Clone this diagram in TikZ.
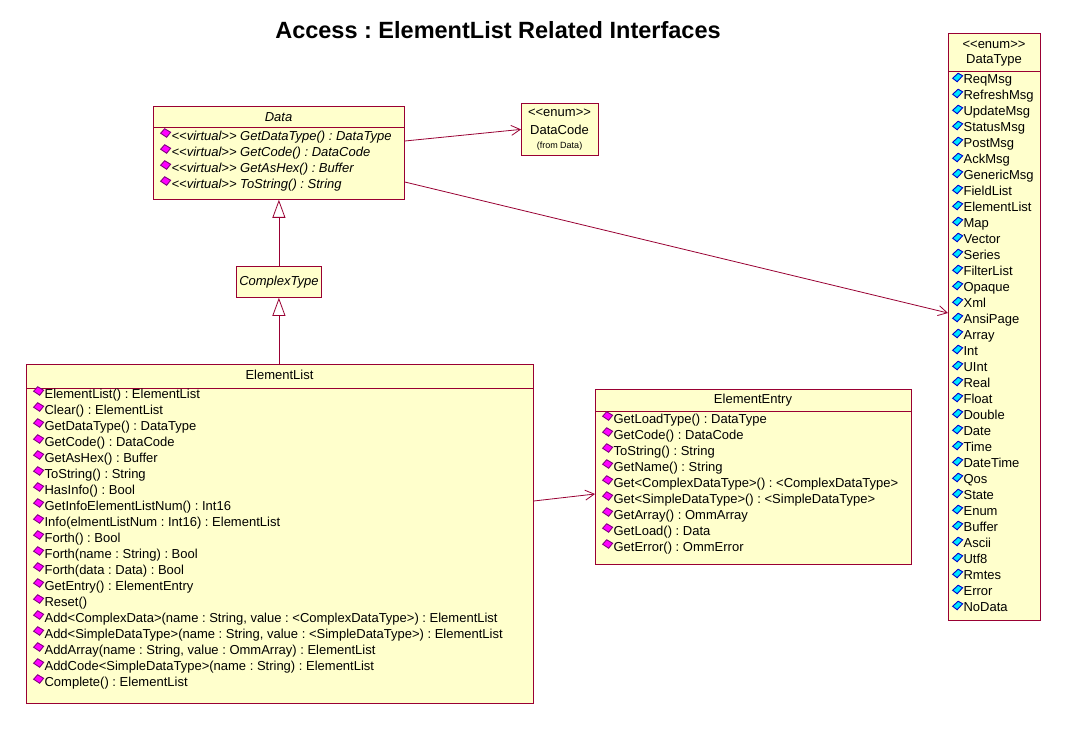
\documentclass[tikz,border=0pt]{standalone}
\usepackage{fontspec}
\setmainfont{Liberation Sans}
\usetikzlibrary{arrows.meta}
\frenchspacing

\definecolor{umlred}{RGB}{153,0,51}
\definecolor{umlfill}{RGB}{255,255,204}
\definecolor{opfill}{RGB}{255,0,255}
\definecolor{opedge}{RGB}{128,0,128}
\definecolor{attfill}{RGB}{0,230,255}
\definecolor{attedge}{RGB}{0,0,204}

% small diamonds in front of operations and enum values
\newcommand{\opicon}{\tikz[baseline=0pt]{\draw[opedge,fill=opfill,line width=0.9pt] (0pt,7pt) -- (4pt,11.5pt) -- (10pt,8pt) -- (6pt,3pt) -- cycle;}\hspace{0.5pt}}
\newcommand{\atticon}{\tikz[baseline=0pt]{\draw[attedge,fill=attfill,line width=0.9pt] (0pt,5pt) -- (5.5pt,10pt) -- (10pt,7.5pt) -- (4.5pt,1.5pt) -- cycle;}\hspace{0.5pt}}

\begin{document}
\begin{tikzpicture}[x=1pt,y=-1pt,
  classbox/.style={draw=umlred,fill=umlfill,line width=0.8pt,anchor=north west,inner sep=0pt},
  umlline/.style={draw=umlred,line width=0.8pt},
  hdr/.style={inner sep=0pt,font=\fontsize{13}{15}\selectfont},
  member/.style={anchor=west,inner sep=0pt,text height=9.5pt,text depth=3pt,font=\fontsize{13}{15}\selectfont},
  assoc/.style={umlline,-{Straight Barb[length=9pt,width=10pt]}},
  inherit/.style={umlline,-{Triangle[open,length=18pt,width=13pt]}}]
 	\fill [white] (0,0) rectangle (1092,738);
 	\useasboundingbox (0,0) rectangle (1092,738);
 	\node [inner sep=0pt,font=\bfseries\fontsize{23.5}{26}\selectfont] (title) at (498,30) {Access : ElementList Related Interfaces};
 	% Data
 	\node [classbox,minimum width=251pt,minimum height=93pt] (data) at (153,106) {};
 	\node [hdr,font=\itshape\fontsize{13}{15}\selectfont] (data-h) at (278.5,117) {Data};
 	\draw [umlline] ([yshift=-21pt]data.north west) -- ([yshift=-21pt]data.north east);
 	\foreach \m [count=\i from 0] in {GetDataType() : DataType, GetCode() : DataCode, GetAsHex() : Buffer, ToString() : String}
 	  \node [member,font=\itshape\fontsize{13}{15}\selectfont] (data-\i) at (160,{137+16*\i}) {\opicon<{}<virtual>{}> \m};
 	% DataCode
 	\node [classbox,minimum width=77pt,minimum height=52pt] (dcode) at (521,103) {};
 	\node [hdr] (dcode-s) at (559.5,113) {<{}<enum>{}>};
 	\node [hdr] (dcode-h) at (559.5,130) {DataCode};
 	\node [hdr,font=\fontsize{9}{11}\selectfont] (dcode-f) at (559.5,146) {(from Data)};
 	% ComplexType
 	\node [classbox,minimum width=85pt,minimum height=31pt,font=\itshape\fontsize{13}{15}\selectfont] (ctype) at (236,266) {ComplexType};
 	% ElementList
 	\node [classbox,minimum width=507pt,minimum height=339pt] (elist) at (26,364) {};
 	\node [hdr] (elist-h) at (279.5,375) {ElementList};
 	\draw [umlline] ([yshift=-24pt]elist.north west) -- ([yshift=-24pt]elist.north east);
 	\foreach \m [count=\i from 0] in {ElementList() : ElementList, Clear() : ElementList, GetDataType() : DataType,
 	  GetCode() : DataCode, GetAsHex() : Buffer, ToString() : String, HasInfo() : Bool,
 	  GetInfoElementListNum() : Int16, Info(elmentListNum : Int16) : ElementList, Forth() : Bool,
 	  Forth(name : String) : Bool, Forth(data : Data) : Bool, GetEntry() : ElementEntry, Reset(),
 	  {Add<ComplexData>(name : String, value : <ComplexDataType>) : ElementList},
 	  {Add<SimpleDataType>(name : String, value : <SimpleDataType>) : ElementList},
 	  {AddArray(name : String, value : OmmArray) : ElementList},
 	  AddCode<SimpleDataType>(name : String) : ElementList, Complete() : ElementList}
 	  \node [member] (elist-\i) at (33,{395+16*\i}) {\opicon\m};
 	% ElementEntry
 	\node [classbox,minimum width=316pt,minimum height=175pt] (eentry) at (595,389) {};
 	\node [hdr] (eentry-h) at (753,400) {ElementEntry};
 	\draw [umlline] ([yshift=-22pt]eentry.north west) -- ([yshift=-22pt]eentry.north east);
 	\foreach \m [count=\i from 0] in {GetLoadType() : DataType, GetCode() : DataCode, ToString() : String,
 	  GetName() : String, Get<ComplexDataType>() : <ComplexDataType>, Get<SimpleDataType>() : <SimpleDataType>,
 	  GetArray() : OmmArray, GetLoad() : Data, GetError() : OmmError}
 	  \node [member] (eentry-\i) at (602,{420+16*\i}) {\opicon\m};
 	% DataType
 	\node [classbox,minimum width=92pt,minimum height=587pt] (dtype) at (948,33) {};
 	\node [hdr] (dtype-s) at (994,45) {<{}<enum>{}>};
 	\node [hdr] (dtype-h) at (994,60) {DataType};
 	\draw [umlline] ([yshift=-38pt]dtype.north west) -- ([yshift=-38pt]dtype.north east);
 	\foreach \m [count=\i from 0] in {ReqMsg, RefreshMsg, UpdateMsg, StatusMsg, PostMsg, AckMsg, GenericMsg,
 	  FieldList, ElementList, Map, Vector, Series, FilterList, Opaque, Xml, AnsiPage, Array, Int, UInt,
 	  Real, Float, Double, Date, Time, DateTime, Qos, State, Enum, Buffer, Ascii, Utf8, Rmtes, Error, NoData}
 	  \node [member] (dtype-\i) at (952,{80+16*\i}) {\atticon\m};
 	% connectors
 	\draw [assoc] ([yshift=-35pt]data.north east) -- (dcode.west);
 	\draw [assoc] ([yshift=-76pt]data.north east) -- ([yshift=-280pt]dtype.north west);
 	\draw [assoc] ([yshift=-137pt]elist.north east) -- ([yshift=-105pt]eentry.north west);
 	\draw [inherit] (ctype.north) -- (data.south);
 	\draw [inherit] (elist.north -| ctype.south) -- (ctype.south);
\end{tikzpicture}
\end{document}
